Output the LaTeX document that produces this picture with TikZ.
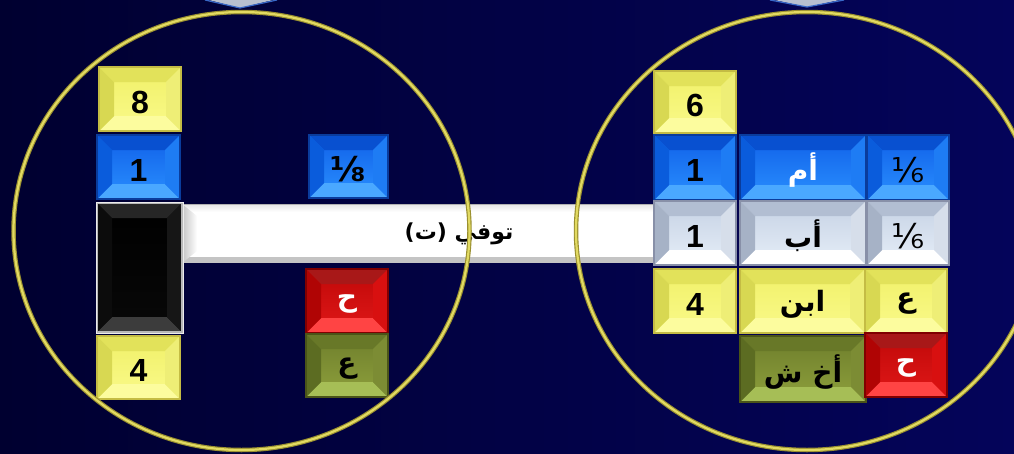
\documentclass[tikz,border=0pt]{standalone}
\usepackage{fontspec}
\setmainfont{Liberation Sans}
\newfontfamily\arabicfont[Script=Arabic]{DejaVu Sans}
\newfontfamily\fracfont{DejaVu Sans}
\TeXXeTstate=1
% colour schemes: ft/fb face top/bottom, t top, b bottom, l left, r right, e edge
\definecolor{yelft}{HTML}{F0F068}\definecolor{yelfb}{HTML}{FAFA8A}
\definecolor{yelt}{HTML}{E2E25A}\definecolor{yelb}{HTML}{FCFC9E}
\definecolor{yell}{HTML}{D8D852}\definecolor{yelr}{HTML}{EEEE76}
\definecolor{yele}{HTML}{C4BC44}
\definecolor{bluft}{HTML}{1060E8}\definecolor{blufb}{HTML}{2A90FF}
\definecolor{blut}{HTML}{0850D0}\definecolor{blub}{HTML}{4AA8FF}
\definecolor{blul}{HTML}{0A5CDC}\definecolor{blur}{HTML}{1E7CF4}
\definecolor{blue}{HTML}{0A3C9C}
\definecolor{silft}{HTML}{C6D2E4}\definecolor{silfb}{HTML}{E6EEF8}
\definecolor{silt}{HTML}{B2BED2}\definecolor{silb}{HTML}{FFFFFF}
\definecolor{sill}{HTML}{A6B2C6}\definecolor{silr}{HTML}{D6DEEA}
\definecolor{sile}{HTML}{8890A8}
\definecolor{redft}{HTML}{C00808}\definecolor{redfb}{HTML}{E01818}
\definecolor{redt}{HTML}{A81818}\definecolor{redb}{HTML}{FF4444}
\definecolor{redl}{HTML}{B00404}\definecolor{redr}{HTML}{D81010}
\definecolor{rede}{HTML}{800000}
\definecolor{olift}{HTML}{6E7E2C}\definecolor{olifb}{HTML}{8EA03C}
\definecolor{olit}{HTML}{687828}\definecolor{olib}{HTML}{A6BE56}
\definecolor{olil}{HTML}{5C6C22}\definecolor{olir}{HTML}{7C8C34}
\definecolor{olie}{HTML}{4A5418}
\definecolor{blkft}{HTML}{000000}\definecolor{blkfb}{HTML}{080808}
\definecolor{blkt}{HTML}{262626}\definecolor{blkb}{HTML}{3C3C3C}
\definecolor{blkl}{HTML}{0C0C0C}\definecolor{blkr}{HTML}{161616}
\definecolor{blke}{HTML}{B8B8B8}
\definecolor{bgL}{HTML}{000030}\definecolor{bgR}{HTML}{04045A}
\definecolor{ringout}{HTML}{9A9030}\definecolor{ringin}{HTML}{E2DA62}
\definecolor{tipfill}{HTML}{B8C0D0}\definecolor{tipedge}{HTML}{3868C8}
\definecolor{barlt}{HTML}{E6E6E6}\definecolor{bardk}{HTML}{C4C4C4}
\newcommand\bevbox[8]{%
  \shade[top color=#6ft, bottom color=#6fb] (#2,#3) rectangle (#4,#5);
  \fill[#6t] (#2,#3) -- (#4,#3) -- (#4-15,#3+15) -- (#2+15,#3+15) -- cycle;
  \fill[#6b] (#2,#5) -- (#4,#5) -- (#4-15,#5-15) -- (#2+15,#5-15) -- cycle;
  \fill[#6l] (#2,#3) -- (#2+15,#3+15) -- (#2+15,#5-15) -- (#2,#5) -- cycle;
  \fill[#6r] (#4,#3) -- (#4-15,#3+15) -- (#4-15,#5-15) -- (#4,#5) -- cycle;
  \draw[#6e, line width=1.2] (#2,#3) rectangle (#4,#5);
  \node[boxtxt, text=#8] (#1) at ({(#2+#4)/2},{(#3+#5)/2+3}) {#7};
}
\newcommand\numtxt[1]{\fontsize{32}{32}\selectfont\bfseries #1}
\newcommand\artxt[1]{\arabicfont\fontsize{28}{28}\selectfont\bfseries\beginR #1\endR}
\newcommand\frtxt[1]{\fracfont\fontsize{34}{34}\selectfont #1}
\tikzset{
  boxtxt/.style={inner sep=0pt, outer sep=0pt},
  ring/.style={line width=4.5pt, draw=ringout},
  ringhi/.style={line width=2.2pt, draw=ringin},
}
\begin{document}
\begin{tikzpicture}[x=1pt,y=-1pt]
\useasboundingbox (0,0) rectangle (1014,453);
\shade[left color=bgL, right color=bgR] (0,0) rectangle (1014,453);
% tips of shapes above
\fill[tipfill] (205,-1) -- (277,-1) -- (240,8) -- cycle;
\draw[tipedge, line width=1.2] (205,0) -- (240,8) -- (277,0);
\fill[tipfill] (770,-1) -- (844,-1) -- (807,7) -- cycle;
\draw[tipedge, line width=1.2] (770,0) -- (807,7) -- (844,0);
% white bar
\fill[white] (182,204) rectangle (655,263);
\shade[top color=barlt, bottom color=white] (182,204) rectangle (655,212);
\fill[bardk] (182,257) rectangle (655,263);
\shade[left color=bardk, right color=white] (182,204) -- (197,216) -- (197,251) -- (182,263) -- cycle;
\draw[gray!60, line width=0.8] (182,204) -- (655,204);
\node[boxtxt] (tawaffi) at (459,234) {\arabicfont\fontsize{22}{22}\selectfont\bfseries\beginR توفي (ت)\endR};
% left group
\bevbox{lsix}{99}{67}{181}{131}{yel}{\numtxt{8}}{black}
\bevbox{lone}{97}{135}{180}{199}{blu}{\numtxt{1}}{black}
\bevbox{lfrac}{309}{135}{388}{198}{blu}{\fracfont\fontsize{34}{34}\selectfont\bfseries ⅛}{black}
\bevbox{ldead}{97}{203}{182}{332}{blk}{}{black}
\draw[white!85!gray, line width=1] (96,202) rectangle (183,333);
\bevbox{lha}{306}{269}{388}{333}{red}{\artxt{ح}}{white}
\bevbox{lain}{306}{334}{388}{397}{oli}{\artxt{ع}}{black}
\bevbox{lfour}{97}{336}{180}{399}{yel}{\numtxt{4}}{black}
% right group
\bevbox{rsix}{654}{71}{736}{133}{yel}{\numtxt{6}}{black}
\bevbox{rone}{654}{135}{736}{200}{blu}{\numtxt{1}}{black}
\bevbox{rmom}{740}{135}{866}{200}{blu}{\artxt{أم}}{white}
\bevbox{rmomf}{867}{135}{949}{200}{blu}{\frtxt{⅙}}{black}
\bevbox{rtwo}{654}{201}{736}{265}{sil}{\numtxt{1}}{black}
\bevbox{rdad}{740}{201}{866}{265}{sil}{\artxt{أب}}{black}
\bevbox{rdadf}{867}{201}{949}{265}{sil}{\frtxt{⅙}}{black}
\bevbox{rfour}{654}{269}{736}{333}{yel}{\numtxt{4}}{black}
\bevbox{rson}{740}{269}{865}{333}{yel}{\artxt{ابن}}{black}
\bevbox{rsonr}{865}{269}{947}{333}{yel}{\artxt{ع}}{black}
\bevbox{rbro}{740}{336}{866}{402}{oli}{\artxt{أخ ش}}{black}
\bevbox{rbrox}{865}{333}{947}{397}{red}{\artxt{ح}}{white}
% rings
\draw[ring] (241.5,231) ellipse [x radius=228, y radius=219];
\draw[ringhi] (241.5,231) ellipse [x radius=228, y radius=219];
\draw[ring] (807,231) ellipse [x radius=231, y radius=219];
\draw[ringhi] (807,231) ellipse [x radius=231, y radius=219];
\end{tikzpicture}
\end{document}
